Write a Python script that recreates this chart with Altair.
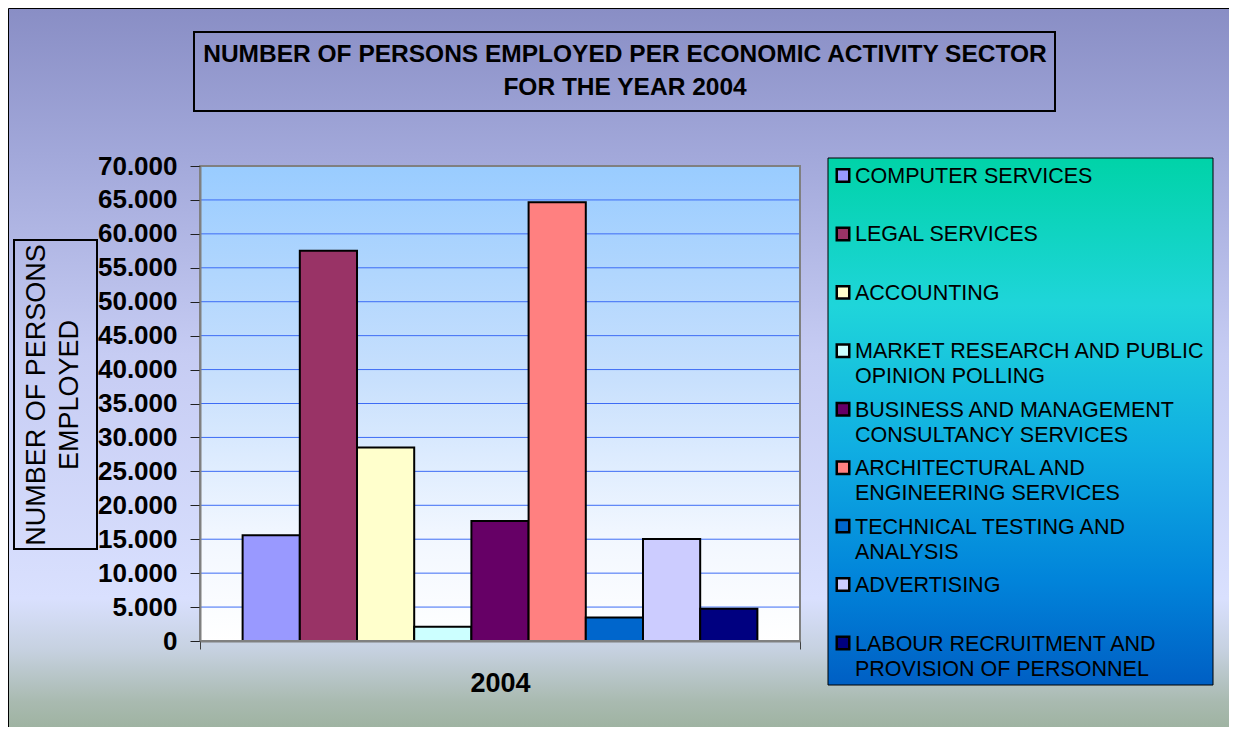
import altair as alt
import pandas as pd

# ---- data ----
sectors = [
    "COMPUTER SERVICES",
    "LEGAL SERVICES",
    "ACCOUNTING",
    "MARKET RESEARCH AND PUBLIC OPINION POLLING",
    "BUSINESS AND MANAGEMENT CONSULTANCY SERVICES",
    "ARCHITECTURAL AND ENGINEERING SERVICES",
    "TECHNICAL TESTING AND ANALYSIS",
    "ADVERTISING",
    "LABOUR RECRUITMENT AND PROVISION OF PERSONNEL",
]
legend_labels = [
    "COMPUTER SERVICES",
    "LEGAL SERVICES",
    "ACCOUNTING",
    "MARKET RESEARCH AND PUBLIC\nOPINION POLLING",
    "BUSINESS AND MANAGEMENT\nCONSULTANCY SERVICES",
    "ARCHITECTURAL AND\nENGINEERING SERVICES",
    "TECHNICAL TESTING AND\nANALYSIS",
    "ADVERTISING",
    "LABOUR RECRUITMENT AND\nPROVISION OF PERSONNEL",
]
employed = [15600, 57500, 28500, 2100, 17700, 64650, 3450, 15050, 4750]
colors = ["#9999FF", "#993366", "#FFFFCC", "#CCFFFF", "#660066",
          "#FF8080", "#0066CC", "#CCCCFF", "#000080"]
year = "2004"
y_ticks = list(range(0, 70001, 5000))

FONT = "Liberation Sans"

bars_df = pd.DataFrame({"sector": sectors, "employed": employed, "year": [year] * len(sectors)})
legend_df = pd.DataFrame({"sector": sectors, "label": legend_labels, "rank": list(range(len(sectors)))})
grid_df = pd.DataFrame({"v": y_ticks})
one = pd.DataFrame({"a": [0]})

color_scale = alt.Scale(domain=sectors, range=colors)
y_scale = alt.Scale(domain=[0, 70000], nice=False, zero=True)

# ---- decorative background ----
page_bg = alt.Chart(one).mark_rect(
    stroke="black", strokeWidth=1,
    fill=alt.Gradient(
        gradient="linear", x1=0, x2=0, y1=0, y2=1,
        stops=[
            alt.GradientStop(color="#898EC5", offset=0),
            alt.GradientStop(color="#A2A8DA", offset=0.2),
            alt.GradientStop(color="#C6CCF3", offset=0.47),
            alt.GradientStop(color="#D9E0FE", offset=0.8),
            alt.GradientStop(color="#C6D1E0", offset=0.87),
            alt.GradientStop(color="#A9BAB0", offset=0.94),
            alt.GradientStop(color="#97AE97", offset=1),
        ],
    ),
).encode(x=alt.value(-191.5), x2=alt.value(1040), y=alt.value(-157.5), y2=alt.value(580))

plot_bg = alt.Chart(one).mark_rect(
    fill=alt.Gradient(
        gradient="linear", x1=0, x2=0, y1=0, y2=1,
        stops=[
            alt.GradientStop(color="#99CCFF", offset=0),
            alt.GradientStop(color="#C8E0FD", offset=0.45),
            alt.GradientStop(color="#F2F7FF", offset=0.78),
            alt.GradientStop(color="#FFFFFF", offset=1),
        ],
    ),
).encode(x=alt.value(0), x2=alt.value(600), y=alt.value(0), y2=alt.value(475))

grid = alt.Chart(grid_df).mark_rule(color="#3D6CF5", strokeWidth=1).encode(
    y=alt.Y("v:Q", scale=y_scale, axis=None),
    x=alt.value(0), x2=alt.value(600),
)

bars = alt.Chart(bars_df).mark_bar(stroke="black", strokeWidth=2).encode(
    x=alt.X("year:N", scale=alt.Scale(paddingInner=0, paddingOuter=0),
            axis=alt.Axis(title=None, labelFont=FONT, labelFontSize=27, labelFontWeight="bold",
                          labelColor="black", labelAngle=0, labelPadding=21,
                          tickBand="extent", tickSize=8, tickColor="#404040", tickWidth=1,
                          domainColor="#808080", domainWidth=2, zindex=1)),
    xOffset=alt.XOffset("sector:N", sort=sectors,
                        scale=alt.Scale(paddingInner=0, paddingOuter=0.745)),
    y=alt.Y("employed:Q", scale=y_scale,
            axis=alt.Axis(title=None, values=y_ticks, grid=False,
                          labelExpr="replace(format(datum.value, ',d'), ',', '.')",
                          labelFont=FONT, labelFontSize=26, labelFontWeight="bold",
                          labelColor="black", labelPadding=13,
                          tickSize=10, tickColor="#202020", tickWidth=1,
                          domainColor="#808080", domainWidth=2, zindex=1)),
    color=alt.Color("sector:N", scale=color_scale, legend=None),
)

plot_border = alt.Chart(one).mark_rect(fill=None, stroke="#808080", strokeWidth=2).encode(
    x=alt.value(0), x2=alt.value(600), y=alt.value(0), y2=alt.value(475))

# ---- title box ----
title_box = alt.Chart(one).mark_rect(fill=None, stroke="black", strokeWidth=2).encode(
    x=alt.value(-6), x2=alt.value(855), y=alt.value(-134), y2=alt.value(-55))
title_text = alt.Chart(one).mark_text(
    text="NUMBER OF PERSONS EMPLOYED PER ECONOMIC ACTIVITY SECTOR\nFOR THE YEAR 2004",
    lineBreak="\n", font=FONT, fontSize=24.5, fontWeight="bold", color="black",
    align="center", baseline="middle", lineHeight=33,
).encode(x=alt.value(425), y=alt.value(-111))

# ---- y-axis title box ----
ytitle_box = alt.Chart(one).mark_rect(fill=None, stroke="black", strokeWidth=2).encode(
    x=alt.value(-186), x2=alt.value(-103), y=alt.value(74), y2=alt.value(383))
ytitle_text = alt.Chart(one).mark_text(
    text="NUMBER OF PERSONS\nEMPLOYED", lineBreak="\n", font=FONT, fontSize=27,
    color="black", align="center", baseline="middle", angle=270, lineHeight=33,
).encode(x=alt.value(-163), y=alt.value(229))

# ---- legend box ----
legend_box = alt.Chart(one).mark_rect(
    stroke="black", strokeWidth=1,
    fill=alt.Gradient(
        gradient="linear", x1=0, x2=0, y1=0, y2=1,
        stops=[
            alt.GradientStop(color="#00D3A8", offset=0),
            alt.GradientStop(color="#1FD5DA", offset=0.28),
            alt.GradientStop(color="#10AEE2", offset=0.55),
            alt.GradientStop(color="#0184DA", offset=0.8),
            alt.GradientStop(color="#005FC4", offset=1),
        ],
    ),
).encode(x=alt.value(628), x2=alt.value(1013), y=alt.value(-8), y2=alt.value(519))

leg_y = alt.Y("rank:Q", scale=alt.Scale(domain=[0, 8], range=[9.5, 477]), axis=None)
legend_sym = alt.Chart(legend_df).mark_square(size=156, stroke="black", strokeWidth=2.5, opacity=1).encode(
    x=alt.value(643), y=leg_y,
    color=alt.Color("sector:N", scale=color_scale, legend=None),
)
legend_txt = alt.Chart(legend_df).mark_text(
    font=FONT, fontSize=21.5, color="black", align="left", baseline="alphabetic",
    lineBreak="\n", lineHeight=25, dy=7.5,
).encode(x=alt.value(655), y=leg_y, text="label:N")

chart = alt.layer(
    page_bg, plot_bg, grid, bars, plot_border,
    title_box, title_text, ytitle_box, ytitle_text,
    legend_box, legend_sym, legend_txt,
).resolve_scale(y="independent").properties(
    width=600, height=475,
    padding={"left": 192, "top": 158, "right": 429, "bottom": 86},
    autosize=alt.AutoSizeParams(type="none"),
    background="white",
).configure_view(stroke=None)

chart.save("out.html", embed_options={"renderer": "svg", "actions": False})
